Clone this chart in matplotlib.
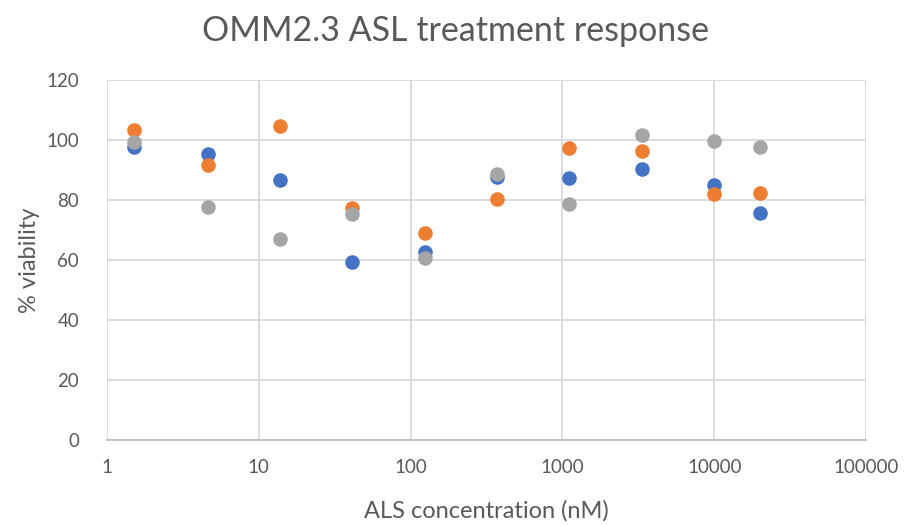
import matplotlib
matplotlib.use("Agg")
import matplotlib.pyplot as plt
from matplotlib.ticker import FixedLocator, FixedFormatter

plt.rcParams['font.family'] = ['Lato', 'DejaVu Sans']

# ALS concentration (nM) per well group
concentration = [1.5, 4.6, 13.7, 41.2, 123.5, 370, 1111, 3333, 10000, 20000]

# % viability for three replicates
rep1 = [97.7, 95.3, 86.7, 59.3, 62.7, 87.6, 87.2, 90.5, 85.0, 75.6]
rep2 = [103.3, 91.7, 104.7, 77.2, 68.9, 80.3, 97.4, 96.4, 82.0, 82.4]
rep3 = [99.4, 77.8, 67.0, 75.3, 60.6, 88.7, 78.7, 101.8, 99.7, 97.8]

x_ticks = [1, 10, 100, 1000, 10000, 100000]
x_tick_labels = ['1', '10', '100', '1000', '10000', '100000']
y_ticks = [0, 20, 40, 60, 80, 100, 120]

text_color = '#595959'
grid_color = '#d9d9d9'

fig = plt.figure(figsize=(9.10, 5.26), dpi=100)
ax = fig.add_axes([107/910, 86/526, (866-107)/910, (440-80)/526])

ax.scatter(concentration, rep1, s=110, color='#4472C4', zorder=3, linewidths=0)
ax.scatter(concentration, rep2, s=110, color='#ED7D31', zorder=4, linewidths=0)
ax.scatter(concentration, rep3, s=110, color='#A5A5A5', zorder=5, linewidths=0)

ax.set_xscale('log')
ax.set_xlim(1, 100000)
ax.set_ylim(0, 120)
ax.xaxis.set_major_locator(FixedLocator(x_ticks))
ax.xaxis.set_major_formatter(FixedFormatter(x_tick_labels))
ax.xaxis.set_minor_locator(FixedLocator([]))
ax.set_yticks(y_ticks)

ax.grid(True, color=grid_color, linewidth=1.3, zorder=0)
ax.set_axisbelow(True)
for side in ('top', 'right', 'left'):
    ax.spines[side].set_visible(False)
ax.spines['bottom'].set_color('#bfbfbf')
ax.spines['bottom'].set_linewidth(1.3)

ax.tick_params(axis='both', length=0, labelsize=13.5, colors=text_color)
ax.tick_params(axis='x', pad=14)
ax.tick_params(axis='y', pad=20)

ax.set_xlabel('ALS concentration (nM)', fontsize=17, color=text_color, labelpad=17)
ax.set_ylabel('% viability', fontsize=17, color=text_color, labelpad=5)
fig.suptitle('OMM2.3 ASL treatment response', fontsize=24.5, color=text_color, y=0.972)

fig.savefig('out.png', dpi=100)
